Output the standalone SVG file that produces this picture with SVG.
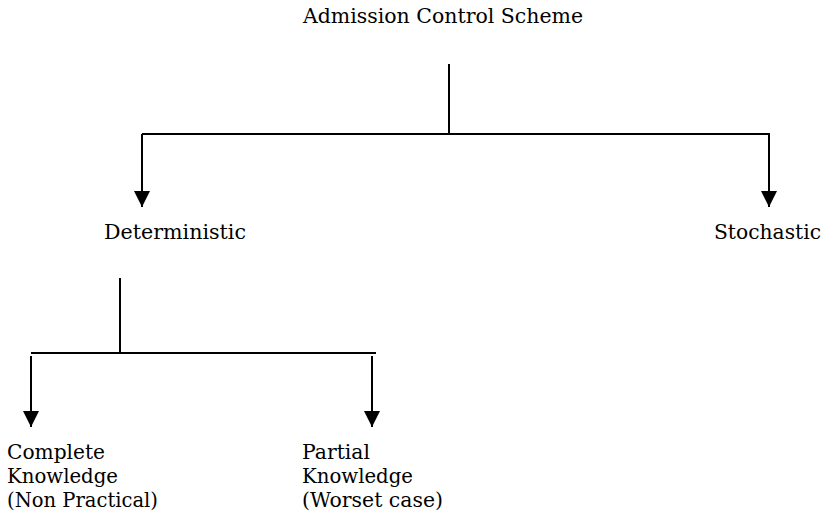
<svg xmlns="http://www.w3.org/2000/svg" width="827" height="515" viewBox="0 0 827 515">
  <style>
    .lbl { font-family: "DejaVu Serif", "Liberation Serif", serif; font-size: 19.5px; fill: #000; }
    .ln { stroke: #000; stroke-width: 2; fill: none; }
  </style>
  <defs>
    <marker id="arrow" viewBox="0 0 16 16" refX="16" refY="8" markerWidth="16" markerHeight="16" markerUnits="userSpaceOnUse" orient="auto">
      <path d="M0,0 L16,8 L0,16 Z" fill="#000"/>
    </marker>
  </defs>
  <rect width="827" height="515" fill="#fff"/>

  <g id="connectors">
    <!-- root to first level -->
    <line class="ln" x1="449" y1="64" x2="449" y2="134"/>
    <line class="ln" x1="142" y1="134" x2="770" y2="134"/>
    <line class="ln" x1="142" y1="134" x2="142" y2="207" marker-end="url(#arrow)"/>
    <line class="ln" x1="769" y1="134" x2="769" y2="207" marker-end="url(#arrow)"/>
    <!-- deterministic to second level -->
    <line class="ln" x1="120" y1="278" x2="120" y2="353"/>
    <line class="ln" x1="31" y1="353" x2="376" y2="353"/>
    <line class="ln" x1="31" y1="356" x2="31" y2="427" marker-end="url(#arrow)"/>
    <line class="ln" x1="372" y1="356" x2="372" y2="427" marker-end="url(#arrow)"/>
  </g>

  <g id="root">
    <text class="lbl" x="303" y="23" textLength="280" lengthAdjust="spacingAndGlyphs">Admission Control Scheme</text>
  </g>
  <g id="deterministic">
    <text class="lbl" x="104" y="239" textLength="142" lengthAdjust="spacingAndGlyphs">Deterministic</text>
  </g>
  <g id="stochastic">
    <text class="lbl" x="714" y="239" textLength="107" lengthAdjust="spacingAndGlyphs">Stochastic</text>
  </g>
  <g id="complete">
    <text class="lbl" x="7" y="459" textLength="98" lengthAdjust="spacingAndGlyphs">Complete</text>
    <text class="lbl" x="7" y="483" textLength="111" lengthAdjust="spacingAndGlyphs">Knowledge</text>
    <text class="lbl" x="7" y="507" textLength="151" lengthAdjust="spacingAndGlyphs">(Non Practical)</text>
  </g>
  <g id="partial">
    <text class="lbl" x="302" y="459" textLength="68" lengthAdjust="spacingAndGlyphs">Partial</text>
    <text class="lbl" x="302" y="483" textLength="111" lengthAdjust="spacingAndGlyphs">Knowledge</text>
    <text class="lbl" x="302" y="507" textLength="141" lengthAdjust="spacingAndGlyphs">(Worset case)</text>
  </g>
</svg>
